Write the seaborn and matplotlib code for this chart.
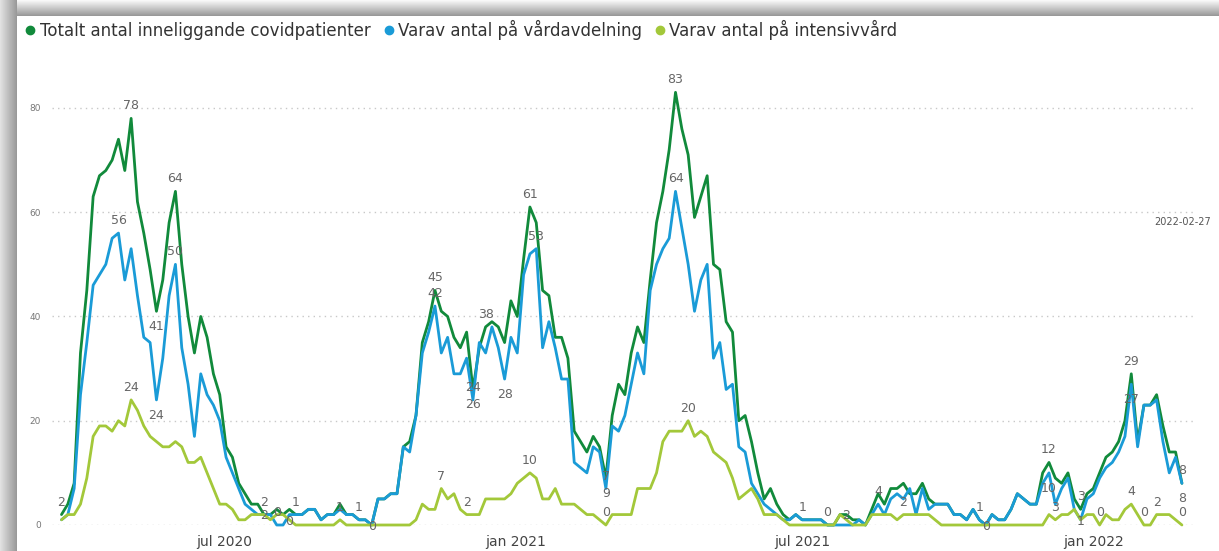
import numpy as np
import pandas as pd
import matplotlib
matplotlib.use("Agg")
import matplotlib.pyplot as plt
from matplotlib.lines import Line2D
import seaborn as sns

# daily values read roughly every 4th day
start = "2020-03-20"
step_days = 4

totalt = [2, 4, 8, 33, 45, 63, 67, 68, 70, 74,
          68, 78, 62, 56, 49, 41, 47, 58, 64, 50,
          40, 33, 40, 36, 29, 25, 15, 13, 8, 6,
          4, 4, 2, 2, 3, 2, 3, 2, 2, 3,
          3, 1, 2, 2, 4, 2, 2, 1, 1, 0,
          5, 5, 6, 6, 15, 16, 21, 35, 39, 45,
          41, 40, 36, 34, 37, 26, 34, 38, 39, 38,
          35, 43, 40, 51, 61, 58, 45, 44, 36, 36,
          32, 18, 16, 14, 17, 15, 9, 21, 27, 25,
          33, 38, 35, 47, 58, 64, 72, 83, 76, 71,
          59, 63, 67, 50, 49, 39, 37, 20, 21, 16,
          10, 5, 7, 4, 2, 1, 2, 1, 1, 1,
          1, 0, 0, 2, 2, 1, 1, 0, 3, 6,
          4, 7, 7, 8, 6, 6, 8, 5, 4, 4,
          4, 2, 2, 1, 3, 1, 0, 2, 1, 1,
          3, 6, 5, 4, 4, 10, 12, 9, 8, 10,
          5, 3, 6, 7, 10, 13, 14, 16, 20, 29,
          16, 23, 23, 25, 19, 14, 14, 8]

vardavdelning = [1, 2, 7, 25, 35, 46, 48, 50, 55, 56,
                 47, 53, 44, 36, 35, 24, 32, 44, 50, 34,
                 27, 17, 29, 25, 23, 20, 13, 10, 7, 4,
                 3, 2, 2, 2, 0, 0, 2, 2, 2, 3,
                 3, 1, 2, 2, 3, 2, 2, 1, 1, 0,
                 5, 5, 6, 6, 15, 14, 21, 33, 37, 42,
                 33, 36, 29, 29, 32, 24, 35, 33, 38, 34,
                 28, 36, 33, 48, 52, 53, 34, 39, 34, 28,
                 28, 12, 11, 10, 15, 14, 7, 19, 18, 21,
                 27, 33, 29, 45, 50, 53, 55, 64, 57, 50,
                 41, 47, 50, 32, 35, 26, 27, 15, 14, 8,
                 6, 4, 3, 2, 1, 1, 2, 1, 1, 1,
                 1, 0, 0, 0, 0, 0, 1, 0, 2, 4,
                 2, 5, 6, 5, 7, 2, 7, 3, 4, 4,
                 4, 2, 2, 1, 3, 1, 0, 2, 1, 1,
                 3, 6, 5, 4, 4, 8, 10, 4, 7, 9,
                 3, 1, 5, 6, 9, 11, 12, 14, 17, 27,
                 15, 23, 23, 24, 16, 10, 13, 8]

intensivvard = [1, 2, 2, 4, 9, 17, 19, 19, 18, 20,
                19, 24, 22, 19, 17, 16, 15, 15, 16, 15,
                12, 12, 13, 10, 7, 4, 4, 3, 1, 1,
                2, 2, 2, 1, 2, 2, 1, 0, 0, 0,
                0, 0, 0, 0, 1, 0, 0, 0, 0, 0,
                0, 0, 0, 0, 0, 0, 1, 4, 3, 3,
                7, 5, 6, 3, 2, 2, 2, 5, 5, 5,
                5, 6, 8, 9, 10, 9, 5, 5, 7, 4,
                4, 4, 3, 2, 2, 1, 0, 2, 2, 2,
                2, 7, 7, 7, 10, 16, 18, 18, 18, 20,
                17, 18, 17, 14, 13, 12, 9, 5, 6, 7,
                5, 2, 2, 2, 1, 0, 0, 0, 0, 0,
                0, 0, 0, 2, 1, 0, 0, 0, 2, 2,
                2, 2, 1, 2, 2, 2, 2, 2, 1, 0,
                0, 0, 0, 0, 0, 0, 0, 0, 0, 0,
                0, 0, 0, 0, 0, 0, 2, 1, 2, 2,
                3, 1, 2, 2, 0, 2, 1, 1, 3, 4,
                2, 0, 0, 2, 2, 2, 1, 0]

serier = ["Totalt antal inneliggande covidpatienter",
          "Varav antal på vårdavdelning",
          "Varav antal på intensivvård"]
farger = ["#118a3b", "#1a9bd7", "#a3c83a"]

# data labels: (series, point index, text, placement)
etiketter = [
    (0, 0, "2", "above"), (0, 11, "78", "above"), (1, 9, "56", "above"),
    (0, 18, "64", "above"), (1, 18, "50", "above"), (0, 15, "41", "below"),
    (2, 11, "24", "above"), (1, 15, "24", "below"),
    (0, 32, "2", "above"), (2, 32, "2", "on"), (1, 34, "0", "above"),
    (1, 37, "1", "above"), (2, 36, "0", "on"), (2, 44, "1", "above"),
    (1, 47, "1", "above"), (1, 49, "0", "on"),
    (0, 59, "45", "above"), (1, 59, "42", "above"), (1, 65, "24", "above"),
    (0, 65, "26", "below"), (0, 67, "38", "above"), (1, 70, "28", "below"),
    (0, 74, "61", "above"), (1, 75, "53", "above"), (2, 60, "7", "above"),
    (2, 64, "2", "above"), (2, 74, "10", "above"), (1, 86, "7", "above"),
    (0, 86, "9", "below"), (2, 86, "0", "above"),
    (0, 97, "83", "above"), (1, 97, "64", "above"), (2, 99, "20", "above"),
    (1, 117, "1", "above"), (1, 121, "0", "above"), (0, 124, "2", "on"),
    (1, 129, "4", "above"), (2, 133, "2", "above"), (1, 145, "1", "above"),
    (1, 146, "0", "on"),
    (0, 156, "12", "above"), (1, 156, "10", "below"), (2, 157, "3", "above"),
    (0, 161, "3", "above"), (1, 161, "1", "on"), (2, 164, "0", "above"),
    (0, 169, "29", "above"), (1, 169, "27", "below"), (2, 169, "4", "above"),
    (2, 171, "0", "above"), (2, 173, "2", "above"),
    (0, 177, "8", "above"), (1, 177, "8", "below"), (2, 177, "0", "above"),
]

datum = pd.date_range(start, periods=len(totalt), freq=f"{step_days}D")
df = pd.DataFrame({"datum": datum, serier[0]: totalt,
                   serier[1]: vardavdelning, serier[2]: intensivvard})
long = df.melt(id_vars="datum", var_name="serie", value_name="antal")

sns.set_theme(style="white")
plt.rcParams["font.family"] = ["DejaVu Sans"]

W, H = 1219, 551
fig = plt.figure(figsize=(W / 100, H / 100), dpi=100, facecolor="white")

# shaded edge of the card, top and left
bg = fig.add_axes([0, 0, 1, 1], zorder=-10)
bg.axis("off")
top = np.linspace(0.97, 0.6, 16).reshape(-1, 1)
left = np.linspace(0.88, 0.6, 17).reshape(1, -1)
bg.imshow(top, cmap="gray", vmin=0, vmax=1, extent=(0, W, 16, 0), aspect="auto")
bg.imshow(left, cmap="gray", vmin=0, vmax=1, extent=(0, 17, H, 0), aspect="auto")
bg.set_xlim(0, W)
bg.set_ylim(H, 0)

ax = fig.add_axes([52 / W, 26 / H, (1193 - 52) / W, (525 - 60) / H])
ax.set_facecolor("none")
sns.lineplot(data=long, x="datum", y="antal", hue="serie", hue_order=serier,
             palette=farger, linewidth=2.0, legend=False, ax=ax)
for line in ax.lines:
    line.set_clip_on(False)

ax.set_xlim(pd.Timestamp("2020-03-14"), pd.Timestamp("2022-03-05"))
ax.set_ylim(0, 89.2)
ax.set_yticks([0, 20, 40, 60, 80])
ax.yaxis.grid(True, linestyle=(0, (1, 3)), color="#c8c8c8", linewidth=1)
ax.xaxis.grid(False)
sns.despine(ax=ax, left=True, bottom=True)
ax.set_xlabel("")
ax.set_ylabel("")

manader = {1: "jan", 7: "jul"}
xticks = [pd.Timestamp("2020-07-01"), pd.Timestamp("2021-01-01"),
          pd.Timestamp("2021-07-01"), pd.Timestamp("2022-01-01")]
ax.set_xticks(xticks)
ax.set_xticklabels([f"{manader[d.month]} {d.year}" for d in xticks])
ax.tick_params(axis="x", length=0, labelsize=10, labelcolor="#444", pad=7)
ax.tick_params(axis="y", length=0, labelsize=6.5, labelcolor="#777", pad=8)

varden = [totalt, vardavdelning, intensivvard]
forskjut = {"above": 9, "below": -11, "on": -1}
for s, i, txt, pos in etiketter:
    ax.annotate(txt, (datum[i], varden[s][i]), xytext=(0, forskjut[pos]),
                textcoords="offset points", ha="center", va="center",
                fontsize=9, color="#666", annotation_clip=False)

handles = [Line2D([], [], marker="o", linestyle="", color=c, markersize=6) for c in farger]
fig.legend(handles, serier, loc="center left", bbox_to_anchor=(22 / W, 1 - 30 / H),
           ncol=3, frameon=False, fontsize=12, handletextpad=0.05,
           columnspacing=0.6, handlelength=1.0, labelcolor="#333",
           borderaxespad=0, borderpad=0)

fig.text(1183 / W, 1 - 222 / H, "2022-02-27", ha="center", va="center",
         fontsize=7, color="#555")

fig.savefig("out.png", dpi=100)
